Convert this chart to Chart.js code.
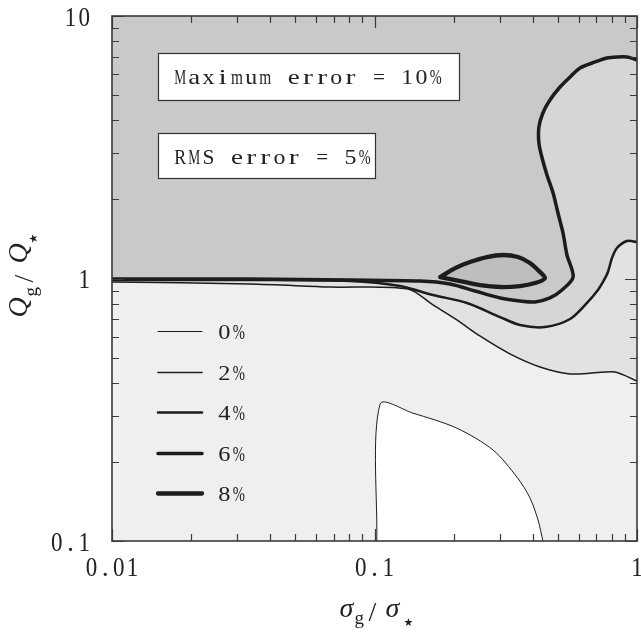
<!DOCTYPE html>
<html>
<head>
<meta charset="utf-8">
<script src="https://cdn.jsdelivr.net/npm/chart.js@4"></script>
<style>
  html, body { margin: 0; padding: 0; background: #fff; }
  canvas { display: block; }
</style>
</head>
<body>
<canvas id="chart" width="641" height="641"></canvas>
<script>
const xTicks = [0.01, 0.1, 1];
const yTicks = [0.1, 1, 10];
const levels = ['0%', '2%', '4%', '6%', '8%'];

// contour lines (sigma_g/sigma_*, Q_g/Q_*)
const loop8X = [0.178, 0.203, 0.231, 0.268, 0.309, 0.352, 0.391, 0.423, 0.446, 0.409, 0.358, 0.301, 0.252, 0.212, 0.178];
const loop8Y = [1.013, 1.096, 1.156, 1.207, 1.229, 1.207, 1.146, 1.068, 1.004, 0.961, 0.936, 0.928, 0.944, 0.978, 1.013];

const line6X = [0.01, 0.0335, 0.0807, 0.149, 0.194, 0.2415, 0.301, 0.358, 0.409, 0.466, 0.518, 0.571, 0.541, 0.5225, 0.500, 0.479, 0.454, 0.435, 0.423, 0.423, 0.438, 0.466, 0.509, 0.556, 0.607, 0.692, 0.769, 0.839, 0.916, 1.0];
const line6Y = [0.996, 0.996, 0.987, 0.978, 0.953, 0.896, 0.843, 0.821, 0.814, 0.843, 0.904, 1.013, 1.229, 1.491, 1.776, 2.117, 2.479, 2.877, 3.282, 3.777, 4.271, 4.786, 5.364, 5.857, 6.339, 6.681, 6.918, 6.98, 6.98, 6.80];

const line4X = [0.01, 0.0335, 0.0807, 0.125, 0.167, 0.225, 0.301, 0.358, 0.446, 0.556, 0.645, 0.710, 0.742, 0.775, 0.803, 0.839, 0.916, 1.0];
const line4Y = [0.987, 0.987, 0.978, 0.936, 0.865, 0.807, 0.713, 0.665, 0.653, 0.701, 0.807, 0.904, 0.970, 1.059, 1.197, 1.307, 1.390, 1.377];

const line2X = [0.01, 0.0335, 0.0677, 0.134, 0.167, 0.206, 0.252, 0.328, 0.427, 0.556, 0.692, 0.825, 1.0];
const line2Y = [0.970, 0.953, 0.928, 0.912, 0.793, 0.695, 0.604, 0.516, 0.460, 0.433, 0.437, 0.440, 0.407];

const line0X = [0.102, 0.105, 0.140, 0.206, 0.283, 0.349, 0.391, 0.420, 0.438];
const line0Y = [0.1, 0.332, 0.307, 0.269, 0.222, 0.175, 0.146, 0.120, 0.1];

const widths = [1, 1.5, 2.5, 3.5, 4.3];
const ink = '#1c1c1c';
const textInk = '#222';
const shades = { top: '#c8c9cb', loop: '#bdbec0', band46: '#d5d6d8', band24: '#e1e2e4', band02: '#eeefef', low: '#ffffff' };

const pts = (xs, ys) => xs.map((x, i) => ({ x, y: ys[i] }));
const below = (xs, ys) => pts(xs, ys).concat([
  { x: xTicks[xTicks.length - 1], y: yTicks[0] },
  { x: xTicks[0], y: yTicks[0] }
]);

const curve = (data, w, fillColor) => ({
  data,
  borderColor: w ? ink : 'transparent',
  borderWidth: w,
  backgroundColor: fillColor || 'transparent',
  fill: fillColor ? 'shape' : false
});

const datasets = [
  curve(pts(loop8X, loop8Y), widths[4], shades.loop),
  curve(pts(line6X, line6Y), widths[3]),
  curve(pts(line4X, line4Y), widths[2]),
  curve(pts(line2X, line2Y), widths[1]),
  curve(pts(line0X, line0Y), widths[0], shades.low),
  curve(below(line2X, line2Y), 0, shades.band02),
  curve(below(line4X, line4Y), 0, shades.band24),
  curve(below(line6X, line6Y), 0, shades.band46)
];

// typewriter look: every character in a fixed cell, stretched or squeezed to fit
function mono(ctx, txt, x, y, cell, align, fill) {
  const total = txt.length * cell;
  let x0 = x;
  if (align === 'center') x0 = x - total / 2;
  if (align === 'right') x0 = x - total;
  [...txt].forEach((ch, i) => {
    const w = ctx.measureText(ch).width;
    const s = Math.min(fill, cell * 0.84 / (w || 1));
    ctx.save();
    ctx.translate(x0 + (i + 0.5) * cell, y);
    ctx.scale(s, 1);
    ctx.fillText(ch, -w / 2, 0);
    ctx.restore();
  });
}

const decor = {
  id: 'decor',
  beforeDraw(chart) {
    const { ctx, chartArea: a } = chart;
    ctx.save();
    ctx.fillStyle = shades.top;
    ctx.fillRect(a.left, a.top, a.right - a.left, a.bottom - a.top);
    ctx.restore();
  },
  afterDraw(chart) {
    const { ctx, chartArea: a, scales } = chart;
    ctx.save();

    // inward ticks on all four sides
    ctx.strokeStyle = '#3a3a3a';
    ctx.lineWidth = 1.2;
    const marks = (ticks) => {
      const out = [];
      ticks.forEach((t, i) => {
        out.push({ v: t, len: 12 });
        if (i < ticks.length - 1) for (let k = 2; k < 10; k++) out.push({ v: t * k, len: 7 });
      });
      return out;
    };
    ctx.beginPath();
    marks(xTicks).forEach(m => {
      const px = Math.round(scales.x.getPixelForValue(m.v)) + 0.5;
      ctx.moveTo(px, a.bottom); ctx.lineTo(px, a.bottom - m.len);
      ctx.moveTo(px, a.top); ctx.lineTo(px, a.top + m.len);
    });
    marks(yTicks).forEach(m => {
      const py = Math.round(scales.y.getPixelForValue(m.v)) + 0.5;
      ctx.moveTo(a.left, py); ctx.lineTo(a.left + m.len, py);
      ctx.moveTo(a.right, py); ctx.lineTo(a.right - m.len, py);
    });
    ctx.stroke();

    ctx.lineWidth = 1.6;
    ctx.strokeRect(a.left, a.top, a.right - a.left, a.bottom - a.top);

    // tick labels
    ctx.fillStyle = textInk;
    ctx.textBaseline = 'alphabetic';
    ctx.textAlign = 'left';
    ctx.font = '28px "Liberation Serif"';
    xTicks.forEach(v => mono(ctx, String(v), scales.x.getPixelForValue(v), a.bottom + 35, 13.7, 'center', 1));
    yTicks.forEach(v => mono(ctx, String(v), a.left - 21, scales.y.getPixelForValue(v) + 9.5, 13.7, 'right', 1));

    // text boxes
    const box = (x, y, w, h, txt) => {
      ctx.fillStyle = '#fff';
      ctx.fillRect(x, y, w, h);
      ctx.strokeStyle = '#333';
      ctx.lineWidth = 1.2;
      ctx.strokeRect(x + 0.5, y + 0.5, w, h);
      ctx.fillStyle = textInk;
      ctx.font = '22px "Liberation Serif"';
      mono(ctx, txt, x + 15, y + 30.5, 14.2, 'left', 1.35);
    };
    box(a.left + 46, a.top + 37, 301, 47, 'Maximum error = 10%');
    box(a.left + 46, a.top + 117, 217, 45, 'RMS error = 5%');

    // legend of line widths
    ctx.lineCap = 'round';
    levels.forEach((lab, i) => {
      const y = Math.round(a.top + 315 + i * 40.6) + 0.5;
      ctx.strokeStyle = ink;
      ctx.lineWidth = widths[i];
      ctx.beginPath();
      ctx.moveTo(a.left + 46, y); ctx.lineTo(a.left + 90, y);
      ctx.stroke();
      ctx.fillStyle = textInk;
      ctx.font = '22px "Liberation Serif"';
      mono(ctx, lab, a.left + 105, y + 7.5, 14.5, 'left', 1.35);
    });

    // axis titles
    ctx.fillStyle = textInk;
    const cx = (a.left + a.right) / 2;
    const by = 617;
    ctx.font = 'italic 28px "Liberation Serif"';
    ctx.fillText('\u03c3', cx - 35, by);
    ctx.font = '19px "Liberation Serif"';
    ctx.fillText('g', cx - 20, by + 7);
    ctx.font = '28px "Liberation Serif"';
    ctx.fillText('/', cx - 6, by + 4);
    ctx.font = 'italic 28px "Liberation Serif"';
    ctx.fillText('\u03c3', cx + 11, by);
    ctx.font = '11px "DejaVu Sans"';
    ctx.fillText('\u2605', cx + 29, by + 9);

    const cy = (a.top + a.bottom) / 2;
    ctx.translate(27, cy + 39);
    ctx.rotate(-Math.PI / 2);
    ctx.font = 'italic 28px "Liberation Serif"';
    ctx.fillText('Q', 0, 0);
    ctx.font = '19px "Liberation Serif"';
    ctx.fillText('g', 21, 10);
    ctx.font = '28px "Liberation Serif"';
    ctx.fillText('/', 35, 6);
    ctx.font = 'italic 28px "Liberation Serif"';
    ctx.fillText('Q', 54, 0);
    ctx.font = '11px "DejaVu Sans"';
    ctx.fillText('\u2605', 74, 10);
    ctx.restore();
  }
};

new Chart(document.getElementById('chart'), {
  type: 'line',
  data: { datasets },
  plugins: [decor],
  options: {
    responsive: false,
    animation: false,
    events: [],
    layout: { padding: { left: 0, top: 16, right: 4, bottom: 0 } },
    elements: {
      point: { radius: 0, hoverRadius: 0 },
      line: { tension: 0.3, borderCapStyle: 'round', borderJoinStyle: 'round' }
    },
    plugins: { legend: { display: false }, tooltip: { enabled: false } },
    scales: {
      x: {
        type: 'logarithmic',
        min: xTicks[0],
        max: xTicks[xTicks.length - 1],
        grid: { display: false, drawTicks: false },
        border: { display: false },
        ticks: { display: false },
        afterBuildTicks: s => { s.ticks = xTicks.map(v => ({ value: v })); },
        afterFit: s => { s.height = 100; s.paddingLeft = 0; s.paddingRight = 0; }
      },
      y: {
        type: 'logarithmic',
        min: yTicks[0],
        max: yTicks[yTicks.length - 1],
        grid: { display: false, drawTicks: false },
        border: { display: false },
        ticks: { display: false },
        afterBuildTicks: s => { s.ticks = yTicks.map(v => ({ value: v })); },
        afterFit: s => { s.width = 112; s.paddingTop = 0; s.paddingBottom = 0; }
      }
    }
  }
});
</script>
</body>
</html>
